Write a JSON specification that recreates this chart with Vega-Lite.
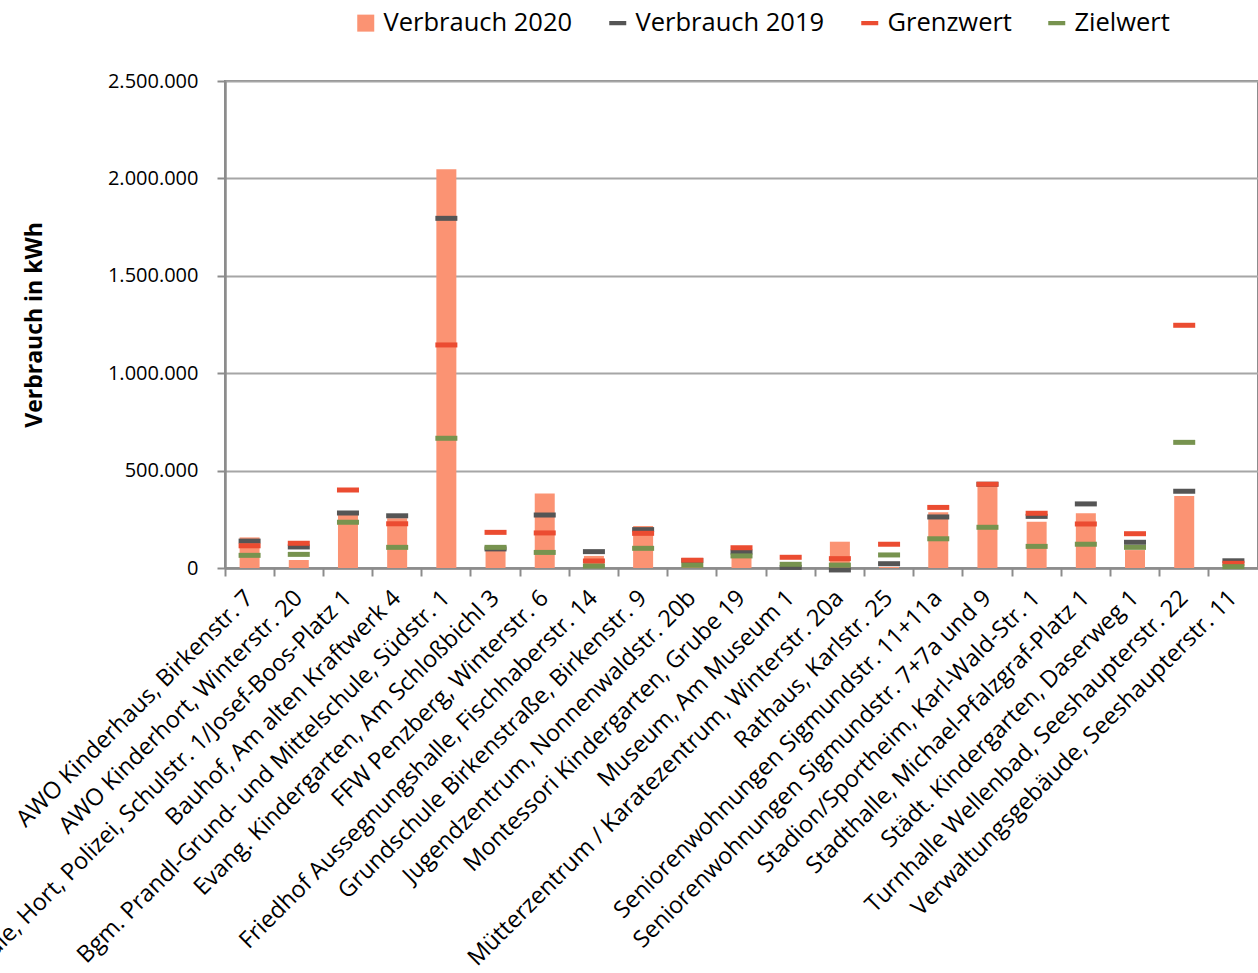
{
  "$schema": "https://vega.github.io/schema/vega-lite/v6.json",
  "width": 1033,
  "height": 487,
  "autosize": {"type": "none"},
  "padding": {"left": 225, "top": 81, "right": 0, "bottom": 405},
  "background": "white",
  "config": {
    "font": "Open Sans",
    "locale": {"number": {"decimal": ",", "thousands": ".", "grouping": [3], "currency": ["", " €"]}},
    "view": {"stroke": "#8C8C8C", "strokeWidth": 2}
  },
  "data": {"values": [
    {"Gebäude": "AWO Kinderhaus, Birkenstr. 7", "Verbrauch 2020": 157000, "Verbrauch 2019": 138000, "Grenzwert": 114000, "Zielwert": 65000},
    {"Gebäude": "AWO Kinderhort, Winterstr. 20", "Verbrauch 2020": 41000, "Verbrauch 2019": 108000, "Grenzwert": 127000, "Zielwert": 70000},
    {"Gebäude": "Grundschule, Hort, Polizei, Schulstr. 1/Josef-Boos-Platz 1", "Verbrauch 2020": 275000, "Verbrauch 2019": 282000, "Grenzwert": 400000, "Zielwert": 235000},
    {"Gebäude": "Bauhof, Am alten Kraftwerk 4", "Verbrauch 2020": 255000, "Verbrauch 2019": 268000, "Grenzwert": 227000, "Zielwert": 106000},
    {"Gebäude": "Bgm. Prandl-Grund- und Mittelschule, Südstr. 1", "Verbrauch 2020": 2047000, "Verbrauch 2019": 1795000, "Grenzwert": 1145000, "Zielwert": 666000},
    {"Gebäude": "Evang. Kindergarten, Am Schloßbichl 3", "Verbrauch 2020": 95000, "Verbrauch 2019": 98000, "Grenzwert": 183000, "Zielwert": 106000},
    {"Gebäude": "FFW Penzberg, Winterstr. 6", "Verbrauch 2020": 383000, "Verbrauch 2019": 272000, "Grenzwert": 180000, "Zielwert": 80000},
    {"Gebäude": "Friedhof Aussegnungshalle, Fischhaberstr. 14", "Verbrauch 2020": 62000, "Verbrauch 2019": 84000, "Grenzwert": 36000, "Zielwert": 10000},
    {"Gebäude": "Grundschule Birkenstraße, Birkenstr. 9", "Verbrauch 2020": 216000, "Verbrauch 2019": 197000, "Grenzwert": 178000, "Zielwert": 101000},
    {"Gebäude": "Jugendzentrum, Nonnenwaldstr. 20b", "Verbrauch 2020": 25000, "Verbrauch 2019": 38000, "Grenzwert": 40000, "Zielwert": 14000},
    {"Gebäude": "Montessori Kindergarten, Grube 19", "Verbrauch 2020": 105000, "Verbrauch 2019": 82000, "Grenzwert": 104000, "Zielwert": 62000},
    {"Gebäude": "Museum, Am Museum 1", "Verbrauch 2020": 10000, "Verbrauch 2019": 3000, "Grenzwert": 55000, "Zielwert": 19000},
    {"Gebäude": "Mütterzentrum / Karatezentrum, Winterstr. 20a", "Verbrauch 2020": 135000, "Verbrauch 2019": -10000, "Grenzwert": 48000, "Zielwert": 15000},
    {"Gebäude": "Rathaus, Karlstr. 25", "Verbrauch 2020": 5000, "Verbrauch 2019": 22000, "Grenzwert": 122000, "Zielwert": 67000},
    {"Gebäude": "Seniorenwohnungen Sigmundstr. 11+11a", "Verbrauch 2020": 286000, "Verbrauch 2019": 262000, "Grenzwert": 311000, "Zielwert": 150000},
    {"Gebäude": "Seniorenwohnungen Sigmundstr. 7+7a und 9", "Verbrauch 2020": 425000, "Verbrauch 2019": 430000, "Grenzwert": 430000, "Zielwert": 209000},
    {"Gebäude": "Stadion/Sportheim, Karl-Wald-Str. 1", "Verbrauch 2020": 238000, "Verbrauch 2019": 265000, "Grenzwert": 281000, "Zielwert": 111000},
    {"Gebäude": "Stadthalle, Michael-Pfalzgraf-Platz 1", "Verbrauch 2020": 281000, "Verbrauch 2019": 329000, "Grenzwert": 226000, "Zielwert": 122000},
    {"Gebäude": "Städt. Kindergarten, Daserweg 1", "Verbrauch 2020": 92000, "Verbrauch 2019": 132000, "Grenzwert": 176000, "Zielwert": 106000},
    {"Gebäude": "Turnhalle Wellenbad, Seeshaupterstr. 22", "Verbrauch 2020": 370000, "Verbrauch 2019": 394000, "Grenzwert": 1246000, "Zielwert": 645000},
    {"Gebäude": "Verwaltungsgebäude, Seeshaupterstr. 11", "Verbrauch 2020": 25000, "Verbrauch 2019": 37000, "Grenzwert": 24000, "Zielwert": 7000}
  ]},
  "encoding": {
    "x": {
      "field": "Gebäude", "type": "nominal", "sort": null,
      "scale": {"paddingInner": 0, "paddingOuter": 0},
      "axis": {
        "title": null, "labelAngle": -45, "labelAlign": "right", "labelBaseline": "middle",
        "labelFontSize": 23.5, "labelColor": "black",
        "labelLimit": 1000, "labelOverlap": false, "labelPadding": 18,
        "bandPosition": 0, "tickSize": 8, "tickColor": "#8C8C8C", "tickWidth": 2,
        "domainColor": "#8C8C8C", "domainWidth": 2.5
      }
    }
  },
  "layer": [
    {
      "mark": {"type": "bar", "width": 20},
      "encoding": {
        "y": {
          "field": "Verbrauch 2020", "type": "quantitative",
          "scale": {"domain": [0, 2500000], "nice": false},
          "axis": {
            "title": "Verbrauch in kWh", "titleFontSize": 23, "titleFontWeight": "bold", "titleColor": "black",
            "titleX": -191, "titleY": 243.5, "titleAlign": "center", "titleBaseline": "middle", "titleAngle": -90,
            "values": [0, 500000, 1000000, 1500000, 2000000, 2500000], "format": ",.0f",
            "labelFontSize": 20, "labelColor": "black", "labelPadding": 19,
            "tickSize": 8, "tickColor": "#8C8C8C", "tickWidth": 2,
            "domainColor": "#8C8C8C", "domainWidth": 2.5,
            "grid": true, "gridColor": "#A6A6A6", "gridWidth": 2
          }
        },
        "color": {
          "datum": "Verbrauch 2020", "type": "nominal",
          "scale": {"domain": ["Verbrauch 2020", "Verbrauch 2019", "Grenzwert", "Zielwert"], "range": ["#FB9373", "#555555", "#EB4C31", "#77934F"]},
          "legend": {
            "title": null, "orient": "none", "direction": "horizontal", "legendX": 128, "legendY": -71,
            "padding": 0, "labelFontSize": 25.5, "labelColor": "black", "labelOffset": 5, "columnPadding": 32,
            "labelLimit": 1000, "symbolSize": 289, "symbolStrokeWidth": 0,
            "encode": {"symbols": {"update": {
              "shape": {"signal": "datum.value === 'Verbrauch 2020' ? 'square' : 'M-1,-0.25H1V0.25H-1Z'"},
              "fill": {"scale": "color", "field": "value"},
              "fillOpacity": {"value": 1},
              "strokeWidth": {"value": 0}
            }}}
          }
        }
      }
    },
    {
      "transform": [{"fold": ["Verbrauch 2019", "Grenzwert", "Zielwert"], "as": ["Serie", "Wert"]}],
      "mark": {"type": "tick", "size": 22, "thickness": 5, "opacity": 1},
      "encoding": {
        "y": {"field": "Wert", "type": "quantitative"},
        "color": {
          "field": "Serie", "type": "nominal", "sort": null,
          "legend": {
            "title": null, "orient": "none", "direction": "horizontal", "legendX": 128, "legendY": -71,
            "padding": 0, "labelFontSize": 25.5, "labelColor": "black", "labelOffset": 5, "columnPadding": 32,
            "labelLimit": 1000, "symbolSize": 289, "symbolStrokeWidth": 0
          }
        }
      }
    }
  ]
}
